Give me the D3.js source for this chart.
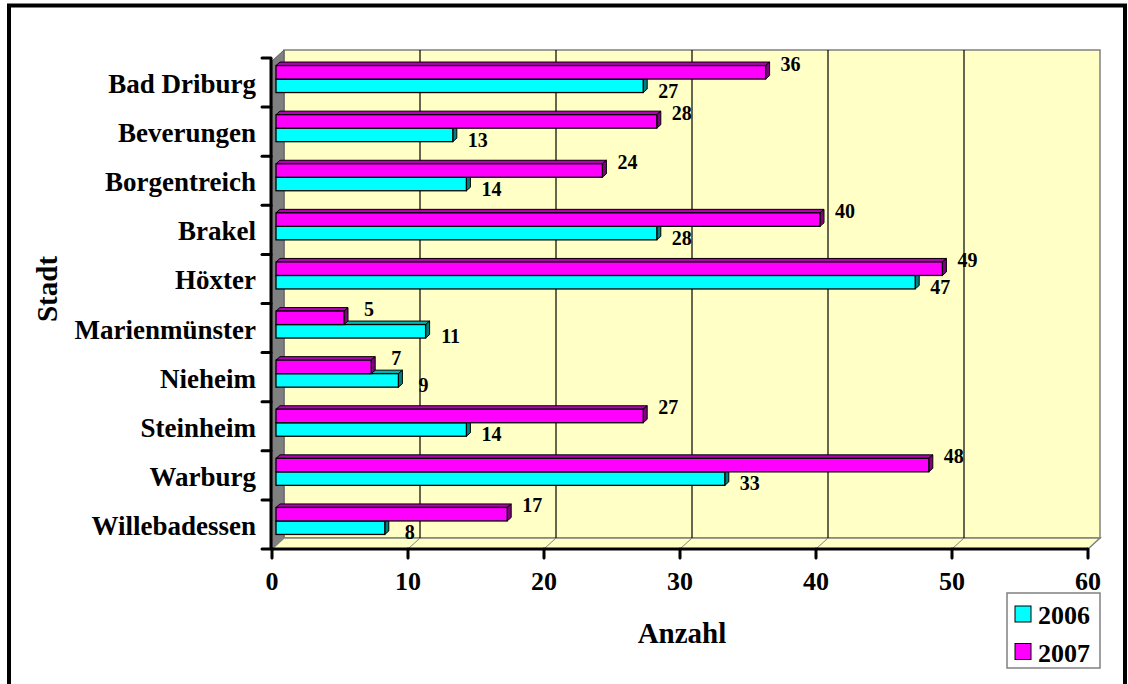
<!DOCTYPE html>
<html>
<head>
<meta charset="utf-8">
<script src="https://cdn.jsdelivr.net/npm/d3@7"></script>
<style>
  html, body { margin: 0; padding: 0; background: #fff; }
  svg { display: block; }
  text { font-family: "Liberation Serif", "Times New Roman", serif; font-weight: bold; fill: #000; }
</style>
</head>
<body>
<svg id="chart" width="1128" height="684"></svg>
<script>
// Categories (towns), top to bottom
const categories = ["Bad Driburg", "Beverungen", "Borgentreich", "Brakel", "Höxter",
  "Marienmünster", "Nieheim", "Steinheim", "Warburg", "Willebadessen"];
// Counts per town
const values2006 = [27, 13, 14, 28, 47, 11, 9, 14, 33, 8];
const values2007 = [36, 28, 24, 40, 49, 5, 7, 27, 48, 17];
const seriesNames = ["2006", "2007"];
const xTicks = [0, 10, 20, 30, 40, 50, 60];

const svg = d3.select("#chart");

// Front plane of the plot
const x = d3.scaleLinear().domain([0, 60]).range([272, 1088]);
const y = d3.scaleBand().domain(categories).range([58, 549]);

// 3D offsets
const wallDX = 12, wallDY = -11;     // depth of back wall / floor
const barFX = 4, barFY = -3.5;       // bar front face offset from front plane
const barDX = 4, barDY = -3.5;       // bar thickness (depth)
const barH = 13.5;

const colors = {
  "2006": { front: "#00FFFF", top: "#00B4B4", side: "#008080" },
  "2007": { front: "#FF00FF", top: "#B400B4", side: "#800080" }
};

// Outer frame
svg.append("rect")
  .attr("x", 9).attr("y", 5.5).attr("width", 1116).attr("height", 720)
  .attr("fill", "#fff").attr("stroke", "#000").attr("stroke-width", 4);

const y0 = y.range()[1];
const yTop = y.range()[0];
const x0 = x(0), x60 = x(60);

// Back wall
svg.append("rect")
  .attr("x", x0 + wallDX).attr("y", yTop + wallDY + 3)
  .attr("width", x60 - x0).attr("height", y0 - yTop - 3)
  .attr("fill", "#FFFFC6").attr("stroke", "#808080").attr("stroke-width", 1.5);

// Side wall (left)
svg.append("polygon")
  .attr("points", [[x0, yTop + 3], [x0 + wallDX, yTop + wallDY + 3], [x0 + wallDX, y0 + wallDY], [x0, y0]].map(p => p.join(",")).join(" "))
  .attr("fill", "#808080").attr("stroke", "#606060").attr("stroke-width", 1);

// Floor
svg.append("polygon")
  .attr("points", [[x0, y0], [x0 + wallDX, y0 + wallDY], [x60 + wallDX, y0 + wallDY], [x60, y0]].map(p => p.join(",")).join(" "))
  .attr("fill", "#FFFFC6").attr("stroke", "#808080").attr("stroke-width", 1.5);

// Gridlines on back wall and floor
const grid = svg.append("g");
xTicks.slice(1, -1).forEach(t => {
  grid.append("line")
    .attr("x1", x(t) + wallDX).attr("x2", x(t) + wallDX)
    .attr("y1", yTop + wallDY + 3).attr("y2", y0 + wallDY)
    .attr("stroke", "#000").attr("stroke-width", 1.2);
  grid.append("line")
    .attr("x1", x(t)).attr("x2", x(t) + wallDX)
    .attr("y1", y0).attr("y2", y0 + wallDY)
    .attr("stroke", "#808080").attr("stroke-width", 1);
});

// Bars
const bars = svg.append("g");
function drawBar(v, yFront, c) {
  const xa = x(0) + barFX, xb = x(v) + barFX;
  const ya = yFront, yb = yFront + barH;
  const pts = a => a.map(p => p.join(",")).join(" ");
  bars.append("polygon")
    .attr("points", pts([[xa, ya], [xb, ya], [xb + barDX, ya + barDY], [xa + barDX, ya + barDY]]))
    .attr("fill", c.top).attr("stroke", "#000").attr("stroke-width", 1);
  bars.append("polygon")
    .attr("points", pts([[xb, ya], [xb + barDX, ya + barDY], [xb + barDX, yb + barDY], [xb, yb]]))
    .attr("fill", c.side).attr("stroke", "#000").attr("stroke-width", 1);
  bars.append("rect")
    .attr("x", xa).attr("y", ya).attr("width", xb - xa).attr("height", barH)
    .attr("fill", c.front).attr("stroke", "#000").attr("stroke-width", 1.3);
}

categories.forEach((cat, i) => {
  const mid = y(cat) + y.bandwidth() / 2 + barFY;
  drawBar(values2006[i], mid, colors["2006"]);
  drawBar(values2007[i], mid - barH, colors["2007"]);
});

// Value labels
const labels = svg.append("g").attr("font-size", 20).attr("text-anchor", "middle");
categories.forEach((cat, i) => {
  const c = y(cat) + y.bandwidth() / 2;
  labels.append("text")
    .attr("x", x(values2007[i]) + 29).attr("y", c - 19).attr("dy", "0.35em")
    .text(values2007[i]);
  labels.append("text")
    .attr("x", x(values2006[i]) + 29).attr("y", c + 8).attr("dy", "0.35em")
    .text(values2006[i]);
});

// Category axis
const yAxis = svg.append("g");
yAxis.append("line")
  .attr("x1", x0 - 1).attr("x2", x0 - 1).attr("y1", yTop).attr("y2", y0)
  .attr("stroke", "#000").attr("stroke-width", 3);
const tickYs = categories.map(c => y(c)).concat([y0]);
tickYs.forEach(ty => {
  yAxis.append("line")
    .attr("x1", x0 - 10).attr("x2", x0 - 1).attr("y1", ty).attr("y2", ty)
    .attr("stroke", "#000").attr("stroke-width", 3).attr("stroke-linecap", "round");
});
yAxis.selectAll("text.cat").data(categories).join("text")
  .attr("class", "cat")
  .attr("x", 256).attr("y", d => y(d) + y.bandwidth() / 2 + 1)
  .attr("dy", "0.35em").attr("text-anchor", "end").attr("font-size", 27)
  .text(d => d);

// Value axis
const xAxis = svg.append("g");
xAxis.append("line")
  .attr("x1", x0 - 1).attr("x2", x60).attr("y1", y0).attr("y2", y0)
  .attr("stroke", "#000").attr("stroke-width", 3);
xTicks.forEach(t => {
  xAxis.append("line")
    .attr("x1", x(t)).attr("x2", x(t)).attr("y1", y0).attr("y2", y0 + 9)
    .attr("stroke", "#000").attr("stroke-width", 3).attr("stroke-linecap", "round");
  xAxis.append("text")
    .attr("x", x(t)).attr("y", 590).attr("text-anchor", "middle").attr("font-size", 26)
    .text(t);
});

// Axis titles
svg.append("text")
  .attr("x", 682).attr("y", 643).attr("text-anchor", "middle").attr("font-size", 29)
  .text("Anzahl");
svg.append("text")
  .attr("transform", "translate(57,289) rotate(-90)")
  .attr("text-anchor", "middle").attr("font-size", 29)
  .text("Stadt");

// Legend
const legend = svg.append("g");
legend.append("rect")
  .attr("x", 1007).attr("y", 593).attr("width", 93).attr("height", 75)
  .attr("fill", "#fff").attr("stroke", "#808080").attr("stroke-width", 1.5);
seriesNames.forEach((s, i) => {
  const ly = 606 + i * 37.5;
  legend.append("rect")
    .attr("x", 1015).attr("y", ly).attr("width", 16).attr("height", 16)
    .attr("fill", colors[s].front).attr("stroke", "#000").attr("stroke-width", 1);
  legend.append("text")
    .attr("x", 1038).attr("y", ly + 18).attr("font-size", 26)
    .text(s);
});
</script>
</body>
</html>
